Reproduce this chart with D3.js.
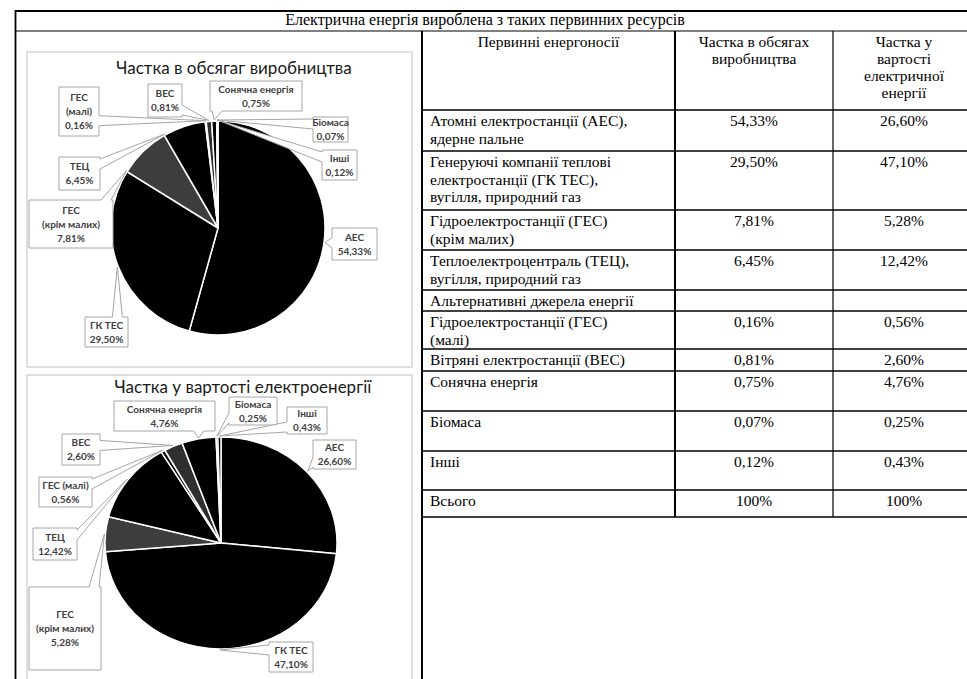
<!DOCTYPE html>
<html>
<head>
<meta charset="utf-8">
<script src="https://cdn.jsdelivr.net/npm/d3@7"></script>
<style>
body { margin: 0; background: #fff; }
.tbl { font-family: "Liberation Serif", "Times New Roman", "DejaVu Serif", serif; font-size: 15.5px; fill: #000; }
.lbl { font-family: Lato, "Open Sans", sans-serif; font-size: 10px; font-weight: 700; fill: #404040; }
.ttl { font-family: Lato, "Open Sans", sans-serif; font-size: 17px; fill: #1a1a1a; }
</style>
</head>
<body>
<svg id="chart" width="967" height="679"></svg>
<script>

// slices, in the order they are drawn (clockwise from 12 o'clock)
var categories = ["АЕС", "ГК ТЕС", "ГЕС (крім малих)", "ТЕЦ", "ГЕС (малі)", "ВЕС", "Сонячна енергія", "Біомаса", "Інші"];
var shareOutput = [54.33, 29.50, 7.81, 6.45, 0.16, 0.81, 0.75, 0.07, 0.12];
var shareCost = [26.60, 47.10, 5.28, 12.42, 0.56, 2.60, 4.76, 0.25, 0.43];

// callout texts
var labelsOutput = ["АЕС", "ГК ТЕС", "ГЕС\n(крім малих)", "ТЕЦ", "ГЕС\n(малі)", "ВЕС", "Сонячна енергія", "Біомаса", "Інші"];
var labelsCost = ["АЕС", "ГК ТЕС", "ГЕС\n(крім малих)", "ТЕЦ", "ГЕС (малі)", "ВЕС", "Сонячна енергія", "Біомаса", "Інші"];

// table rows: text lines and index into the share arrays (-1 = section header, "total" = sum row)
var tableNames = [
	["Атомні електростанції (АЕС),", "ядерне пальне"],
	["Генеруючі компанії теплові", "електростанції (ГК ТЕС),", "вугілля, природний газ"],
	["Гідроелектростанції (ГЕС)", "(крім малих)"],
	["Теплоелектроцентраль (ТЕЦ),", "вугілля, природний газ"],
	["Альтернативні джерела енергії"],
	["Гідроелектростанції (ГЕС)", "(малі)"],
	["Вітряні електростанції (ВЕС)"],
	["Сонячна енергія"],
	["Біомаса"],
	["Інші"],
	["Всього"]
];
var tableIndex = [0, 1, 2, 3, -1, 4, 5, 6, 7, 8, "total"];

var tableTitle = "Електрична енергія вироблена з таких первинних ресурсів";
var tableHeader = [["Первинні енергоносії"], ["Частка в обсягах", "виробництва"], ["Частка у", "вартості", "електричної", "енергії"]];
var pieTitles = ["Частка в обсягаг виробництва", "Частка у вартості електроенергії"];

// ---- layout (not data) ----
var rowLines = [110, 151, 210, 250, 290, 311, 349, 371, 411, 451, 490, 517];
var colX = [422, 675, 833, 975];

var sliceFill = ["#000", "#000", "#3d3d3d", "#000", "#000", "#2f2f2f", "#000", "#000", "#000"];

// callout boxes [x0, y0, x1, y1], placed by hand as in the source
var boxesOutput = [
	[332, 228, 377, 260], [85, 317, 128, 347], [29, 200, 113, 248], [59, 157, 100, 190],
	[59, 87, 99, 136], [148, 84, 182, 117], [210, 81, 302, 111], [313, 117, 348, 142], [322, 150, 357, 180]
];
var boxesCost = [
	[313, 440, 356, 469], [269, 642, 313, 672], [29, 587, 101, 670], [33, 528, 77, 560],
	[39, 477, 92, 507], [62, 434, 100, 465], [114, 401, 215, 431], [229, 397, 277, 425], [287, 407, 327, 434]
];
// where along its slice each callout points (0 = slice start, 0.5 = middle)
var anchorOutput = [0.5, 0.5, 0.02, 0.02, 0.5, 0.5, 0.5, 0.5, 0.5];
var anchorCost = [0.5, 0.5, 0.5, 0.5, 0.5, 0.5, 0.5, 0.5, 0.5];

var svg = d3.select("#chart");

function fmtPct(v) { return d3.format(".2f")(v).replace(".", ",") + "%"; };


// ---------- frame of the Word table ----------
svg.append("rect").attr("width", 967).attr("height", 679).attr("fill", "#fff");

function hline(y, x0, x1, w) {
	svg.append("line").attr("x1", x0).attr("x2", x1).attr("y1", y).attr("y2", y)
		.attr("stroke", "#000").attr("stroke-width", w);
};
function vline(x, y0, y1, w) {
	svg.append("line").attr("x1", x).attr("x2", x).attr("y1", y0).attr("y2", y1)
		.attr("stroke", "#000").attr("stroke-width", w);
};

hline(11, 15, 967, 2);
hline(31, 15, 967, 1.2);
vline(15.5, 10, 679, 1.8);
vline(colX[0], 31, 679, 2);
vline(colX[1], 31, rowLines[rowLines.length - 1], 2);
vline(colX[2], 31, rowLines[rowLines.length - 1], 1.2);
rowLines.forEach(function (y) { hline(y, colX[0], 967, 1.5); });

svg.append("text").attr("class", "tbl").attr("x", 485).attr("y", 25).attr("text-anchor", "middle")
	.style("font-size", "16px").text(tableTitle);

// header cells
tableHeader.forEach(function (lines, ic) {
	var cx = (colX[ic] + colX[ic + 1]) / 2;
	lines.forEach(function (t, il) {
		svg.append("text").attr("class", "tbl").attr("x", cx).attr("y", 47 + il * 17)
			.attr("text-anchor", "middle").text(t);
	});
});

// body rows
tableNames.forEach(function (lines, ir) {
	var top = rowLines[ir];
	lines.forEach(function (t, il) {
		svg.append("text").attr("class", "tbl").attr("x", colX[0] + 8).attr("y", top + 16 + il * 17.5).text(t);
	});
	var idx = tableIndex[ir];
	if (idx === -1) return;
	var v1 = idx === "total" ? d3.format(".0f")(d3.sum(shareOutput)) + "%" : fmtPct(shareOutput[idx]);
	var v2 = idx === "total" ? d3.format(".0f")(d3.sum(shareCost)) + "%" : fmtPct(shareCost[idx]);
	[v1, v2].forEach(function (v, k) {
		svg.append("text").attr("class", "tbl").attr("x", (colX[k + 1] + colX[k + 2]) / 2).attr("y", top + 16)
			.attr("text-anchor", "middle").text(v);
	});
});


// ---------- pie charts ----------
function calloutPath(b, ax, ay) {
	var x0 = b[0], y0 = b[1], x1 = b[2], y1 = b[3];
	var ox = ax < x0 ? x0 - ax : (ax > x1 ? ax - x1 : 0);
	var oy = ay < y0 ? y0 - ay : (ay > y1 ? ay - y1 : 0);
	var side = ox >= oy ? (ax < x0 ? "L" : "R") : (ay < y0 ? "T" : "B");
	var hw, c, p = [];
	function clamp(v, a, z) { return Math.max(a, Math.min(z, v)); };
	p.push([x0, y0]);
	if (side === "T") {
		hw = Math.min(5, (x1 - x0) / 4); c = clamp(ax, x0 + hw + 2, x1 - hw - 2);
		p.push([c - hw, y0], [ax, ay], [c + hw, y0]);
	};
	p.push([x1, y0]);
	if (side === "R") {
		hw = Math.min(5, (y1 - y0) / 4); c = clamp(ay, y0 + hw + 2, y1 - hw - 2);
		p.push([x1, c - hw], [ax, ay], [x1, c + hw]);
	};
	p.push([x1, y1]);
	if (side === "B") {
		hw = Math.min(5, (x1 - x0) / 4); c = clamp(ax, x0 + hw + 2, x1 - hw - 2);
		p.push([c + hw, y1], [ax, ay], [c - hw, y1]);
	};
	p.push([x0, y1]);
	if (side === "L") {
		hw = Math.min(5, (y1 - y0) / 4); c = clamp(ay, y0 + hw + 2, y1 - hw - 2);
		p.push([x0, c + hw], [ax, ay], [x0, c - hw]);
	};
	return "M" + p.map(function (q) { return q[0] + "," + q[1]; }).join("L") + "Z";
};

function drawPie(values, labels, boxes, anchors, title, panel, cx, cy, rx, ry, titleX, titleY) {
	// panel border
	svg.append("rect").attr("x", panel[0]).attr("y", panel[1])
		.attr("width", panel[2] - panel[0]).attr("height", panel[3] - panel[1])
		.attr("fill", "#fff").attr("stroke", "#bfbfbf").attr("stroke-width", 1);

	svg.append("text").attr("class", "ttl").attr("x", titleX).attr("y", titleY)
		.attr("text-anchor", "middle").text(title);

	var arcs = d3.pie().sort(null).value(function (d) { return d; })(values);
	var arc = d3.arc().innerRadius(0).outerRadius(ry);

	var g = svg.append("g").attr("transform", "translate(" + cx + "," + cy + ") scale(" + (rx / ry) + ",1)");
	g.selectAll("path").data(arcs).enter().append("path")
		.attr("d", arc)
		.attr("fill", function (d, i) { return sliceFill[i]; })
		.attr("stroke", "#fff").attr("stroke-width", 1.5)
		.attr("vector-effect", "non-scaling-stroke");

	// callouts
	arcs.forEach(function (d, i) {
		var a = d.startAngle + (d.endAngle - d.startAngle) * anchors[i];
		var ax = cx + (rx + 1) * Math.sin(a), ay = cy - (ry + 1) * Math.cos(a);
		var b = boxes[i];
		svg.append("path").attr("d", calloutPath(b, ax, ay))
			.attr("fill", "#fff").attr("stroke", "#a6a6a6").attr("stroke-width", 1);
		var lines = labels[i].split("\n").concat([fmtPct(values[i])]);
		var lh = 14, mid = (b[1] + b[3]) / 2;
		lines.forEach(function (t, il) {
			svg.append("text").attr("class", "lbl").attr("x", (b[0] + b[2]) / 2)
				.attr("y", mid - (lines.length - 1) * lh / 2 + il * lh + 3.5)
				.attr("text-anchor", "middle").text(t);
		});
	});
};

drawPie(shareOutput, labelsOutput, boxesOutput, anchorOutput, pieTitles[0], [27, 52, 412, 367], 218, 228, 107, 107, 234, 74);
drawPie(shareCost, labelsCost, boxesCost, anchorCost, pieTitles[1], [27, 375, 412, 690], 221, 543, 116, 106, 243, 393);

</script>
</body>
</html>
